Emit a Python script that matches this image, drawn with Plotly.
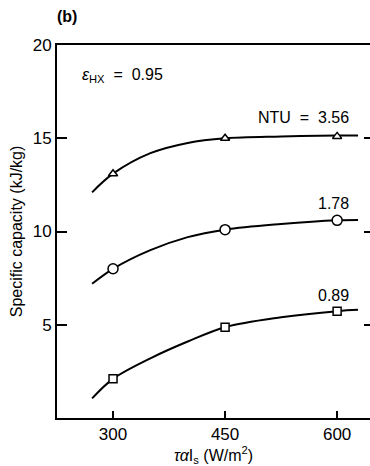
import plotly.graph_objects as go

# Data
x_curve = [272, 300, 350, 400, 450, 525, 600, 628]
ntu_356 = [12.1, 13.1, 14.2, 14.75, 15.0, 15.1, 15.15, 15.15]
ntu_178 = [7.2, 8.0, 9.0, 9.7, 10.1, 10.4, 10.6, 10.62]
ntu_089 = [1.05, 2.1, 3.2, 4.1, 4.87, 5.4, 5.73, 5.8]

x_marks = [300, 450, 600]
m_356 = [13.1, 15.0, 15.1]
m_178 = [8.0, 10.1, 10.6]
m_089 = [2.1, 4.87, 5.73]

x_ticks = [300, 450, 600]
y_ticks = [5, 10, 15, 20]

FONT = "Liberation Sans, Arial, sans-serif"
fig = go.Figure()

for ys, ms, sym, sz in [(ntu_356, m_356, "triangle-up", 8),
                        (ntu_178, m_178, "circle", 10),
                        (ntu_089, m_089, "square", 8)]:
    fig.add_trace(go.Scatter(x=x_curve, y=ys, mode="lines",
                             line=dict(color="black", width=2, shape="spline", smoothing=1.0),
                             hoverinfo="skip", showlegend=False))
    fig.add_trace(go.Scatter(x=x_marks, y=ms, mode="markers",
                             marker=dict(symbol=sym, size=sz, color="white",
                                         line=dict(color="black", width=1.5)),
                             showlegend=False))
fig.add_trace(go.Scatter(x=[None], y=[None], yaxis="y2", showlegend=False))

fig.update_layout(
    width=370, height=466,
    margin=dict(l=57, r=0, t=45, b=48),
    paper_bgcolor="white", plot_bgcolor="white",
    font=dict(family=FONT, size=17, color="black"),
    xaxis=dict(range=[225, 644], tickvals=x_ticks, ticks="inside", ticklen=7,
               tickwidth=1.5, tickcolor="black", showline=True, linecolor="black",
               linewidth=2, mirror=True, showgrid=False, zeroline=False,
               tickfont=dict(size=17),
               title=dict(text="<i>τα</i>I<sub>s</sub> (W/m<sup>2</sup>)",
                          font=dict(size=16), standoff=6)),
    yaxis=dict(range=[0, 20], tickvals=y_ticks, ticks="inside", ticklen=10,
               tickwidth=1.5, tickcolor="black", showline=True, linecolor="black",
               linewidth=2, showgrid=False, zeroline=False,
               tickfont=dict(size=17),
               title=dict(text="Specific capacity (kJ/kg)", font=dict(size=16), standoff=6)),
    yaxis2=dict(range=[0, 20], overlaying="y", side="right", tickvals=[5, 10, 15],
                ticks="inside", ticklen=6, tickwidth=1.5, tickcolor="black",
                showticklabels=False, showline=False, showgrid=False, zeroline=False),
)

# annotations placed by pixel position, converted to paper coordinates
W, H = 370, 466
l, r, t, b = 57, 0, 45, 48
pw, ph = W - l - r, H - t - b

def px(x, y):
    return (x - l) / pw, 1 - (y - t) / ph

labels = [
    ("<b>(b)</b>", 55, 17, "left"),
    ("<i>ε</i><sub>HX</sub>  =  0.95", 80, 75, "left"),
    ("NTU  =  3.56", 351, 117, "right"),
    ("1.78", 351, 203, "right"),
    ("0.89", 351, 295, "right"),
]
for text, x, y, anchor in labels:
    ax, ay = px(x, y)
    fig.add_annotation(text=text, x=ax, y=ay, xref="paper", yref="paper",
                       showarrow=False, xanchor=anchor, yanchor="middle",
                       font=dict(size=16))

fig.write_html("out.html")
